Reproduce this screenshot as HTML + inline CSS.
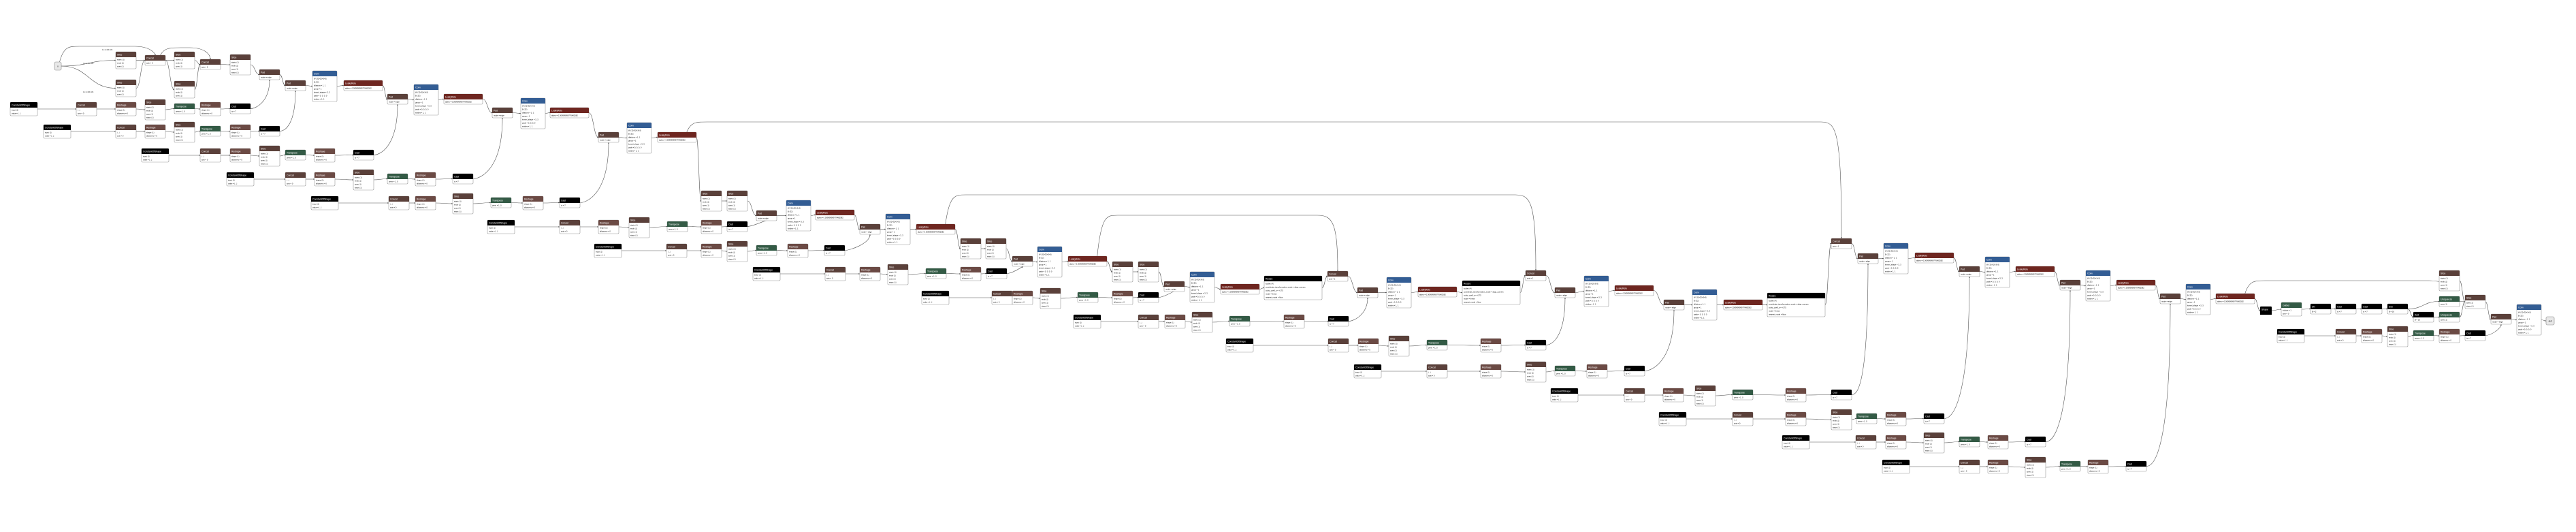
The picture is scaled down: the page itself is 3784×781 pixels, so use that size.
<!DOCTYPE html>
<html><head><meta charset="utf-8"><style>
html,body{margin:0;padding:0;background:#fff;}
svg{display:block;font-family:"Liberation Sans",sans-serif;}
</style></head><body>
<svg id="g" width="3784" height="781" viewBox="0 0 3784 781" xmlns="http://www.w3.org/2000/svg">
<defs><marker id="ar" viewBox="0 0 6 6" refX="6" refY="3" markerWidth="3" markerHeight="3" orient="auto"><path d="M0,0L6,3L0,6z" fill="#444"/></marker></defs>
<g id="edges"></g>
<g id="nodes"></g>
<g font-size="3" fill="#333">
<text x="150" y="74">1×1×36×36</text><text x="122" y="94">1×1×36×36</text><text x="122" y="136">1×1×36×36</text>
</g>
</svg>
<script>
const mainIds=["x","sA","sB","c1","sC","sD","c2","sE","p1","p2","cv1","lr1","p3","cv2","lr2","p4","cv3","lr3","p5","cv4","lr4","sF","sG","p6","cv5","lr5","p7","cv6","lr6","sH","sI","p8","cv7","lr7","sJ","sK","p9","cv8","lr8","rs1","c10","p10","cv9","lr9","rs2","c11","p11","cv10","lr10","p12","cv11","lr11","rs3","c12","p13","cv12","lr12","p14","cv13","lr13","p15","cv14","lr14","p16","cv15","lr15","shp","gat","div","caA","caB","sub","add","uq1","uq2","sT","sU","p17","cv16","out"];
const mainTypes=["In","Slice","Slice","Concat","Slice","Slice","Concat","Slice4","Pad","Pad","Conv","Leaky","Pad","Conv","Leaky","Pad","Conv","Leaky","Pad","Conv","Leaky","Slice4","Slice4","Pad","Conv","Leaky","Pad","Conv","Leaky","Slice4","Slice4","Pad","Conv","Leaky","Slice4","Slice4","Pad","Conv","Leaky","Resize","Concat1","Pad","Conv","Leaky","Resize","Concat1","Pad","Conv","Leaky","Pad","Conv","Leaky","Resize","Concat1","Pad","Conv","Leaky","Pad","Conv","Leaky","Pad","Conv","Leaky","Pad","Conv","Leaky","Shape","Gather","Div","Cast","Cast","Sub","Add","Unsqueeze","Unsqueeze","Slice4","Slice2","Pad","Conv","Out"];
const mainX=[80,170,170,213,256,256,294,338,381,419,459,505,569,608,652,723,765,808,879,921,966,1030,1068,1111,1155,1198,1263,1301,1346,1411,1448,1487,1524,1569,1634,1672,1710,1748,1793,1857,1950,1994,2037,2083,2148,2241,2284,2327,2372,2444,2486,2532,2596,2690,2729,2767,2813,2878,2916,2961,3026,3064,3109,3173,3211,3255,3320,3351,3394,3431,3469,3507,3545,3583,3583,3583,3621,3659,3697,3740];
const mainY=[91,76,117,81,76,119,87,80,102,118,104,118,138,124,138,158,144,158,194,180,194,280,280,309,294,308,329,314,329,350,350,376,362,376,384,384,413,399,417,405,398,422,407,421,412,397,422,405,419,440,425,440,430,350,372,357,371,391,377,391,411,397,411,431,417,431,450,444,446,446,446,446,458,435,458,397,433,461,447,465];
const edgeFrom=["x","x","sA","sB","c1","c1","sC","sD","c2","sE","p1","p2","cv1","lr1","p3","cv2","lr2","p4","cv3","lr3","p5","cv4","lr4","sF","sG","p6","cv5","lr5","p7","cv6","lr6","sH","sI","p8","cv7","lr7","sJ","sK","p9","cv8","lr8","rs1","c10","p10","cv9","lr9","rs2","c11","p11","cv10","lr10","p12","cv11","lr11","rs3","c12","p13","cv12","lr12","p14","cv13","lr13","p15","cv14","lr14","p16","cv15","lr15","shp","gat","div","caA","caB","sub","sub","add","uq1","uq2","sT","sU","p17","cv16"];
const edgeTo=["sA","sB","c1","c1","sC","sD","c2","c2","sE","p1","p2","cv1","lr1","p3","cv2","lr2","p4","cv3","lr3","p5","cv4","lr4","sF","sG","p6","cv5","lr5","p7","cv6","lr6","sH","sI","p8","cv7","lr7","sJ","sK","p9","cv8","lr8","rs1","c10","p10","cv9","lr9","rs2","c11","p11","cv10","lr10","p12","cv11","lr11","rs3","c12","p13","cv12","lr12","p14","cv13","lr13","p15","cv14","lr14","p16","cv15","lr15","shp","gat","div","caA","caB","sub","uq1","add","uq2","sU","sU","sU","p17","cv16","out"];
const longFrom=["x","c1","lr4","lr6","lr7","lr15"];
const longTo=["c1","c2","c12","c11","c10","sT"];
const longRouteY=[68,70,179,286,316,412];
const branchCoS=[15,64,208,333,457,716,873,1106,1354,1577,1801,1989,2278,2437,2618,2765,3345];
const branchY=[150,183,218,253,288,323,358,392,427,462,497,535,570,605,639,675,483];
const branchConcat=[112,170,294,419,571,822,979,1212,1457,1672,1951,2096,2386,2545,2726,2878,3431];
const branchReshape=[170,213,338,462,610,879,1030,1263,1487,1711,1995,2175,2443,2623,2770,2920,3469];
const branchSlice=[213,256,381,519,665,924,1068,1304,1528,1751,2040,2241,2490,2690,2826,2975,3507];
const branchTranspose=[256,294,419,569,721,980,1111,1360,1583,1806,2096,2284,2545,2727,2878,3026,3545];
const branchReshape2=[294,338,462,610,768,1030,1157,1411,1634,1886,2175,2331,2623,2770,2920,3067,3583];
const branchCast=[338,381,519,665,822,1068,1211,1449,1672,1951,2241,2386,2690,2826,2975,3123,3621];
const branchTarget=["p1","p2","p3","p4","p5","p6","p7","p8","p9","p10","p11","p12","p13","p14","p15","p16","p17"];

const NS="http://www.w3.org/2000/svg";
const T={
 In:{c:"#ddd",w:10,l:[]},Out:{c:"#ddd",w:12,l:[]},
 Slice:{c:"#5a403a",w:30,n:"Slice",l:["starts ⟨1⟩","ends ⟨1⟩","axes ⟨1⟩"]},
 Slice4:{c:"#5a403a",w:30,n:"Slice",l:["starts ⟨1⟩","ends ⟨1⟩","axes ⟨1⟩","steps ⟨1⟩"]},
 Slice2:{c:"#5a403a",w:30,n:"Slice",l:["axes ⟨1⟩","steps ⟨1⟩"]},
 Concat:{c:"#5a403a",w:30,n:"Concat",l:["axis = 2"]},
 Concat1:{c:"#5a403a",w:30,n:"Concat",l:["axis = 1"]},
 BConcat:{c:"#5a403a",w:30,n:"Concat",l:["⟨...⟩","axis = 0"]},
 Reshape:{c:"#6b4a44",w:30,n:"Reshape",l:["shape ⟨1⟩","allowzero = 0"]},
 Transpose:{c:"#335a45",w:30,n:"Transpose",l:["perm = 1, 0"]},
 Cast:{c:"#000",w:30,n:"Cast",l:["to = 7"]},
 CoS:{c:"#000",w:40,n:"ConstantOfShape",l:["input ⟨1⟩","value = [...]"]},
 Pad:{c:"#5a403a",w:30,n:"Pad",l:["mode = edge"]},
 Conv:{c:"#335d94",w:36,n:"Conv",l:["W ⟨32×32×3×3⟩","B ⟨32⟩","dilations = 1, 1","group = 1","kernel_shape = 3, 3","pads = 0, 0, 0, 0","strides = 1, 1"]},
 Leaky:{c:"#6e2620",w:57,n:"LeakyRelu",l:["alpha = 0.009999999776482582"]},
 Resize:{c:"#000",w:85,n:"Resize",l:["scales ⟨4⟩","coordinate_transformation_mode = align_corners","cubic_coeff_a = -0.75","mode = linear","nearest_mode = floor"]},
 Shape:{c:"#000",w:17,n:"Shape",l:[]},
 Gather:{c:"#335a45",w:30,n:"Gather",l:["indices = 1","axis = 0"]},
 Div:{c:"#000",w:30,n:"Div",l:["B = 2"]},
 Sub:{c:"#000",w:30,n:"Sub",l:["B = 16"]},
 Add:{c:"#000",w:30,n:"Add",l:["B = 16"]},
 Unsqueeze:{c:"#335a45",w:30,n:"Unsqueeze",l:["axes ⟨1⟩"]}
};
const nodes={};
const gN=document.getElementById("nodes"),gE=document.getElementById("edges");
function mk(tag,at,parent){const e=document.createElementNS(NS,tag);for(const k in at)e.setAttribute(k,at[k]);parent.appendChild(e);return e;}
function addNode(id,type,x,y){
 const t=T[type];let h;
 if(type==="In"||type==="Out")h=12;else if(type==="Shape")h=12;else h=9+5*t.l.length+1;
 nodes[id]={x:x,y:y,w:t.w,h:h};
 const g=mk("g",{},gN);
 
 
 if(type==="In"||type==="Out"){
  mk("rect",{x:x,y:y,width:t.w,height:h,rx:2,fill:"#e8e8e8",stroke:"#888","stroke-width":0.6},g);
  const tx=mk("text",{x:x+t.w/2,y:y+7.5,"font-size":3.5,"text-anchor":"middle",fill:"#000"},g);tx.textContent=type==="In"?"x":"out";
  return;
 }
 mk("rect",{x:x,y:y,width:t.w,height:h,rx:1.5,fill:"#fff",stroke:"#999","stroke-width":0.6},g);
 const hh=(type==="Shape")?h:8;
 mk("path",{d:`M${x} ${y+hh}V${y+1.5}Q${x} ${y} ${x+1.5} ${y}H${x+t.w-1.5}Q${x+t.w} ${y} ${x+t.w} ${y+1.5}V${y+hh}Z`,fill:t.c},g);
 const ht=mk("text",{x:x+2,y:y+5.5,"font-size":3.4,fill:"#fff"},g);ht.textContent=t.n;
 t.l.forEach((s,i)=>{const lt=mk("text",{x:x+2,y:y+12.5+5*i,"font-size":2.7,fill:"#000"},g);lt.textContent=s;});
}
function edge(d,name){const p=mk("path",{d:d,fill:"none",stroke:"#555","stroke-width":0.6,"marker-end":"url(#ar)"},gE);
 
 }
function rc(n){return [n.x+n.w,n.y+n.h/2];}
function lc(n){return [n.x,n.y+n.h/2];}
function link(a,b){const s=rc(a),t=lc(b);const m=(s[0]+t[0])/2;
 edge(`M${s[0]} ${s[1]}C${m} ${s[1]} ${m} ${t[1]} ${t[0]} ${t[1]}`,'edge');}

mainIds.forEach((id,i)=>addNode(id,mainTypes[i],mainX[i],mainY[i]));
branchCoS.forEach((cx,i)=>{
 const y=branchY[i],b="b"+i;
 addNode(b+"cos","CoS",cx,y);
 addNode(b+"con","BConcat",branchConcat[i],y);
 addNode(b+"r1","Reshape",branchReshape[i],y);
 addNode(b+"sl","Slice4",branchSlice[i],y-4);
 addNode(b+"tr","Transpose",branchTranspose[i],y+2);
 addNode(b+"r2","Reshape",branchReshape2[i],y);
 addNode(b+"ca","Cast",branchCast[i],y+2);
 const seq=["cos","con","r1","sl","tr","r2"];
 for(let k=0;k<seq.length-1;k++)link(nodes[b+seq[k]],nodes[b+seq[k+1]]);
 link(nodes[b+"r2"],nodes[b+"ca"]);
 const c=nodes[b+"ca"],p=nodes[branchTarget[i]];
 const sx=c.x+c.w,sy=c.y+c.h/2,tx=p.x+p.w/2,ty=p.y+p.h;
 edge(`M${sx} ${sy}C${sx+8} ${sy} ${tx} ${sy-10} ${tx} ${ty}`,'branch-edge');
});
edgeFrom.forEach((f,i)=>link(nodes[f],nodes[edgeTo[i]]));
longFrom.forEach((f,i)=>{
 const a=nodes[f],b=nodes[longTo[i]],yr=longRouteY[i];
 const sx=a.x+a.w*0.75,sy=a.y,tx=b.x+b.w/2,ty=b.y;
 edge(`M${sx} ${sy}C${sx+6} ${yr} ${sx+14} ${yr} ${sx+30} ${yr}L${tx-30} ${yr}C${tx-8} ${yr} ${tx} ${yr+10} ${tx} ${ty}`,'long-edge');
});
</script>
</body></html>
